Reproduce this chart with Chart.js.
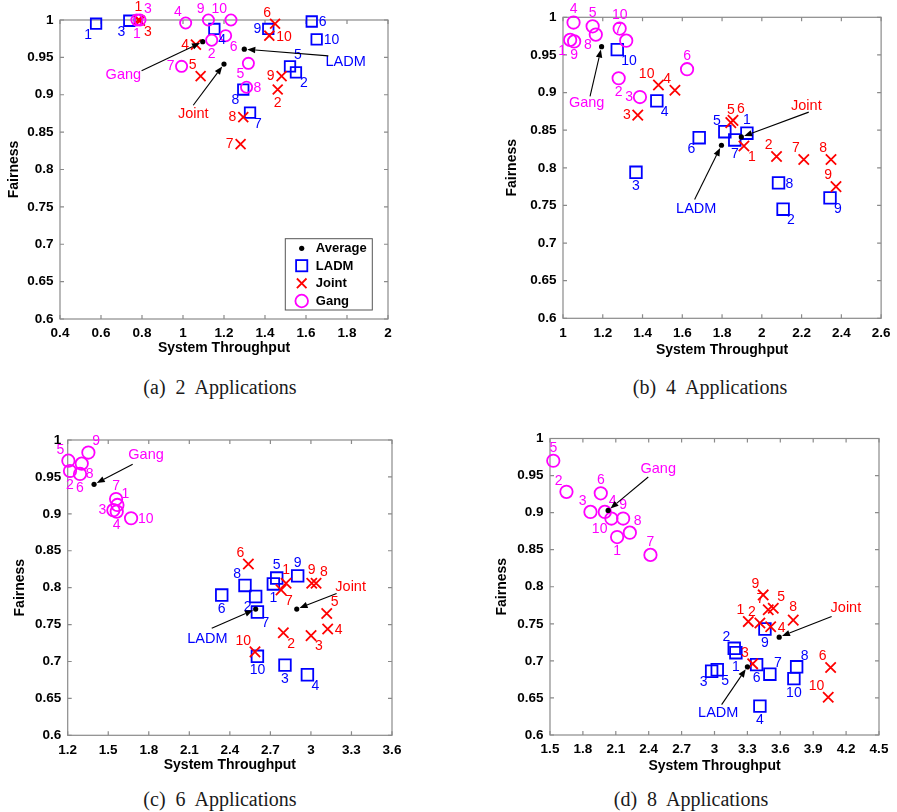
<!DOCTYPE html>
<html><head><meta charset="utf-8">
<script src="https://cdn.jsdelivr.net/npm/chart.js@4.4.1/dist/chart.umd.min.js"></script>
<style>
body{margin:0;background:#fff;width:897px;height:812px;position:relative;overflow:hidden}
canvas{position:absolute}
.cap{position:absolute;font-family:'Liberation Serif','Times New Roman',serif;font-size:20px;line-height:20px;color:#1a1a1a;white-space:pre;word-spacing:5px;transform:translateX(-50%)}
</style></head><body>
<canvas id="pa"></canvas><canvas id="pb"></canvas><canvas id="pc"></canvas><canvas id="pd"></canvas>
<div class="cap" style="left:220px;top:377px">(a) 2 Applications</div>
<div class="cap" style="left:710px;top:377px">(b) 4 Applications</div>
<div class="cap" style="left:220px;top:789px">(c) 6 Applications</div>
<div class="cap" style="left:691px;top:789px">(d) 8 Applications</div>
<script>
// ---------------- DATA ----------------
const appIds = ['1','2','3','4','5','6','7','8','9','10'];
const seriesNames = ['LADM','Joint','Gang'];
const yTicks = [0.6,0.65,0.7,0.75,0.8,0.85,0.9,0.95,1];

// (a) 2 Applications
const aXTicks = [0.4,0.6,0.8,1,1.2,1.4,1.6,1.8,2];
const aLadmTp    = [0.576,1.551,0.738,1.153,1.522,1.628,1.327,1.294,1.416,1.652];
const aLadmFair  = [0.995,0.930,0.999,0.988,0.938,0.998,0.876,0.907,0.988,0.974];
const aJointTp   = [0.782,1.462,0.790,1.063,1.086,1.449,1.281,1.294,1.481,1.421];
const aJointFair = [1.000,0.907,0.999,0.967,0.925,0.995,0.834,0.870,0.925,0.979];
const aGangTp    = [0.775,1.140,0.790,1.013,1.319,1.208,0.993,1.310,1.124,1.234];
const aGangFair  = [1.000,0.973,1.000,0.996,0.942,0.979,0.938,0.910,1.000,1.000];
const aAvgTp     = [1.299,1.200,1.096];   // LADM, Joint, Gang
const aAvgFair   = [0.961,0.941,0.971];

// (b) 4 Applications
const bXTicks = [1,1.2,1.4,1.6,1.8,2,2.2,2.4,2.6];
const bLadmTp    = [1.925,2.107,1.367,1.472,1.814,1.685,1.864,2.084,2.343,1.273];
const bLadmFair  = [0.846,0.745,0.794,0.889,0.848,0.840,0.837,0.780,0.760,0.957];
const bJointTp   = [1.910,2.074,1.376,1.563,1.844,1.855,2.211,2.348,2.373,1.480];
const bJointFair = [0.829,0.815,0.870,0.903,0.860,0.863,0.811,0.811,0.775,0.910];
const bGangTp    = [1.036,1.280,1.387,1.053,1.149,1.624,1.318,1.165,1.056,1.285];
const bGangFair  = [0.970,0.919,0.894,0.993,0.988,0.931,0.969,0.977,0.968,0.985];
const bAvgTp     = [1.797,1.897,1.194];
const bAvgFair   = [0.830,0.841,0.961];

// (c) 6 Applications
const cXTicks = [1.2,1.5,1.8,2.1,2.4,2.7,3,3.3,3.6];
const cLadmTp    = [2.722,2.591,2.808,2.974,2.747,2.340,2.604,2.512,2.902,2.604];
const cLadmFair  = [0.805,0.788,0.695,0.682,0.813,0.790,0.767,0.803,0.816,0.707];
const cJointTp   = [2.816,2.796,3.001,3.124,3.117,2.537,2.779,3.038,3.006,2.586];
const cJointFair = [0.806,0.739,0.735,0.744,0.765,0.832,0.797,0.806,0.806,0.713];
const cGangTp    = [1.568,1.217,1.538,1.563,1.205,1.291,1.558,1.304,1.353,1.669];
const cGangFair  = [0.912,0.958,0.905,0.903,0.972,0.954,0.920,0.968,0.983,0.894];
const cAvgTp     = [2.591,2.895,1.395];
const cAvgFair   = [0.771,0.771,0.940];

// (d) 8 Applications
const dXTicks = [1.5,1.8,2.1,2.4,2.7,3,3.3,3.6,3.9,4.2,4.5];
const dLadmTp    = [3.195,3.180,2.974,3.414,3.025,3.384,3.505,3.749,3.460,3.724];
const dLadmFair  = [0.711,0.717,0.686,0.639,0.688,0.695,0.682,0.692,0.743,0.676];
const dJointTp   = [3.308,3.414,3.348,3.512,3.536,4.059,3.490,3.718,3.444,4.037];
const dJointFair = [0.753,0.751,0.696,0.746,0.771,0.691,0.769,0.755,0.789,0.651];
const dGangTp    = [2.112,1.650,1.869,2.000,1.530,1.963,2.416,2.228,2.167,2.060];
const dGangFair  = [0.867,0.928,0.901,0.901,0.970,0.926,0.843,0.873,0.892,0.892];
const dAvgTp     = [3.300,3.590,2.030];
const dAvgFair   = [0.692,0.732,0.903];

// ---------------- LAYOUT (label placement, annotation positions) ----------------
const aPos = {LADM:['sw','se','sw','se','ne','e','se','sw','w','e'],
              Joint:['n','s','se','w','nw','nw','w','w','w','e'],
              Gang:['s','s','ne','nw','sw','se','w','e','nw','nw']};
const bPos = {LADM:['n','se','s','se','nw','sw','s','e','se','se'],
              Joint:['se','nw','w','nw','n','ne','nw','nw','nw','nw'],
              Gang:['sw','s','w','n','n','n','nw','sw','s','n']};
const cPos = {LADM:['s','sw','s','se','n','s','se','nw','n','s'],
              Joint:['n','se','se','e','ne','nw','se','ne','n','nw'],
              Gang:['ne','s','w','s','nw','s','n','se','ne','e']};
const dPos = {LADM:['s','nw','sw','s','se','s','ne','ne','s','s'],
              Joint:['nw','nw','nw','e','ne','nw','nw','n','nw','nw'],
              Gang:['s','nw','nw','ne','n','n','n','ne','n','sw']};
// [series index, label x, label y, arrow tail x, arrow tail y] in data units
const aNotes = [[2,0.709,0.926,0.798,0.932],[1,1.050,0.874,1.050,0.886],[0,1.793,0.944,1.709,0.952]];
const bNotes = [[2,1.119,0.886,1.136,0.895],[1,2.224,0.882,2.236,0.874],[0,1.670,0.745,1.662,0.758]];
const cNotes = [[2,1.780,0.980,1.681,0.967],[1,3.294,0.801,3.190,0.792],[0,2.234,0.731,2.266,0.745]];
const dNotes = [[2,2.487,0.959,2.396,0.948],[1,4.198,0.772,4.068,0.760],[0,3.034,0.630,3.065,0.641]];

const BLUE = '#0000ff', RED = '#ff0000', MAG = '#ff00ff';
const COLORS = [BLUE, RED, MAG];
const SANS = "'Liberation Sans', Arial, Helvetica, sans-serif";

function pts(xs, ys){ return xs.map((v,i)=>({x:v, y:ys[i]})); }

function labelOffset(place, tw){
  const hw = tw/2;
  switch(place){
    case 'n': return [0,-13];
    case 's': return [0,14];
    case 'e': return [7+hw,1];
    case 'w': return [-7-hw,0];
    case 'ne': return [4+hw,-11];
    case 'nw': return [-4-hw,-11];
    case 'se': return [4+hw,11];
    case 'sw': return [-4-hw,11];
  }
  return [0,0];
}

function drawArrow(ctx,x1,y1,x2,y2){
  const dx=x2-x1, dy=y2-y1, L=Math.hypot(dx,dy), ux=dx/L, uy=dy/L;
  const ex=x2-ux*3, ey=y2-uy*3, hl=8, hw=3.2;
  const bx=ex-ux*hl, by=ey-uy*hl;
  ctx.beginPath(); ctx.moveTo(x1,y1); ctx.lineTo(bx,by); ctx.stroke();
  ctx.beginPath(); ctx.moveTo(ex,ey); ctx.lineTo(bx-uy*hw,by+ux*hw); ctx.lineTo(bx+uy*hw,by-ux*hw); ctx.closePath(); ctx.fill();
}

function buildPanel(s){
  const cv = document.getElementById(s.id);
  cv.width = s.w; cv.height = s.h;
  cv.style.left = s.left+'px'; cv.style.top = s.top+'px';
  cv.style.width = s.w+'px'; cv.style.height = s.h+'px';
  const yW = s.plotL - s.left, xH = s.top + s.h - s.plotB;
  const padTop = s.plotT - s.top, padRight = s.left + s.w - s.plotR;
  const xTitlePad = (s.top + s.h) - (s.plotB + s.gapX) - 8.4;
  const yTitlePad = (s.plotL - s.gapY - s.left) - 8.4;
  const m = s.mk;
  const seriesData = [pts(s.ladmTp,s.ladmFair), pts(s.jointTp,s.jointFair), pts(s.gangTp,s.gangFair)];
  const styles = ['rect','crossRot','circle'];
  const radii = [m.rect, m.cross, m.circle];
  const datasets = [{label:'Average', data:pts(s.avgTp,s.avgFair), pointStyle:'circle', pointRadius:2.6,
      backgroundColor:'#000', borderColor:'#000', borderWidth:0, clip:false, order:0}];
  [2,1,0].forEach((k,j)=>{
    datasets.push({label:seriesNames[k], data:seriesData[k], pointStyle:styles[k], pointRadius:radii[k],
      borderColor:COLORS[k], backgroundColor:'rgba(0,0,0,0)', borderWidth:1.8, clip:false, order:j+1,
      seriesIndex:k});
  });
  const decor = {
    id:'decor'+s.id,
    beforeDatasetsDraw(chart){
      const {ctx, chartArea:ca, scales:{x,y}} = chart;
      ctx.save();
      ctx.strokeStyle='#8a8a8a'; ctx.lineWidth=1.2;
      ctx.strokeRect(ca.left, ca.top, ca.right-ca.left, ca.bottom-ca.top);
      ctx.beginPath();
      s.xTicks.forEach(v=>{ const px=x.getPixelForValue(v);
        ctx.moveTo(px,ca.bottom); ctx.lineTo(px,ca.bottom-4);
        ctx.moveTo(px,ca.top); ctx.lineTo(px,ca.top+4); });
      yTicks.forEach(v=>{ const py=y.getPixelForValue(v);
        ctx.moveTo(ca.left,py); ctx.lineTo(ca.left+4,py);
        ctx.moveTo(ca.right,py); ctx.lineTo(ca.right-4,py); });
      ctx.stroke();
      ctx.restore();
    },
    afterDatasetsDraw(chart){
      const {ctx, chartArea:ca, scales:{x,y}} = chart;
      ctx.save();
      // numeric labels
      ctx.font = '14px '+SANS; ctx.textAlign='center'; ctx.textBaseline='middle';
      chart.data.datasets.forEach((d,di)=>{
        if (d.seriesIndex===undefined) return;
        const meta = chart.getDatasetMeta(di);
        const place = s.pos[seriesNames[d.seriesIndex]];
        ctx.fillStyle = COLORS[d.seriesIndex];
        meta.data.forEach((el,i)=>{
          const t = appIds[i];
          const tw = ctx.measureText(t).width;
          const [ox,oy] = labelOffset(place[i], tw);
          ctx.fillText(t, el.x+ox, el.y+oy);
        });
      });
      // annotations
      ctx.font = '14.5px '+SANS;
      s.notes.forEach(n=>{
        const k=n[0];
        ctx.fillStyle=COLORS[k];
        ctx.fillText(seriesNames[k], x.getPixelForValue(n[1]), y.getPixelForValue(n[2]));
        ctx.strokeStyle='#000'; ctx.fillStyle='#000'; ctx.lineWidth=1.1;
        drawArrow(ctx, x.getPixelForValue(n[3]), y.getPixelForValue(n[4]),
                  x.getPixelForValue(s.avgTp[k]), y.getPixelForValue(s.avgFair[k]));
      });
      // legend (panel a)
      if (s.legend){
        const bx = ca.right-15.7-87, by = ca.bottom-9-71.3;
        ctx.fillStyle='#fff'; ctx.fillRect(bx,by,87,71.3);
        ctx.strokeStyle='#555'; ctx.lineWidth=1; ctx.strokeRect(bx,by,87,71.3);
        const mx = bx+16.4, tx = bx+30.5;
        const rows = [by+9.6, by+27, by+44.6, by+62.3];
        ctx.fillStyle='#000'; ctx.beginPath(); ctx.arc(mx,rows[0],2.6,0,Math.PI*2); ctx.fill();
        ctx.lineWidth=1.8;
        ctx.strokeStyle=BLUE; ctx.strokeRect(mx-5.6,rows[1]-5.6,11.2,11.2);
        ctx.strokeStyle=RED; ctx.beginPath();
        ctx.moveTo(mx-4.8,rows[2]-4.8); ctx.lineTo(mx+4.8,rows[2]+4.8);
        ctx.moveTo(mx+4.8,rows[2]-4.8); ctx.lineTo(mx-4.8,rows[2]+4.8); ctx.stroke();
        ctx.strokeStyle=MAG; ctx.beginPath(); ctx.arc(mx,rows[3],6.3,0,Math.PI*2); ctx.stroke();
        ctx.fillStyle='#000'; ctx.font='bold 13px '+SANS; ctx.textAlign='left';
        ['Average','LADM','Joint','Gang'].forEach((t,i)=>ctx.fillText(t,tx,rows[i]+0.5));
      }
      ctx.restore();
    }
  };
  const tickFont = {family:SANS, size:13.5, weight:'bold'};
  const titleFont = {family:SANS, size:14, weight:'bold'};
  return new Chart(cv, {
    type:'scatter',
    data:{datasets},
    options:{
      responsive:false, animation:false, events:[], devicePixelRatio:1,
      layout:{padding:{top:padTop, right:padRight, left:0, bottom:0}},
      plugins:{legend:{display:false}, tooltip:{enabled:false}},
      scales:{
        x:{type:'linear', min:s.xTicks[0], max:s.xTicks[s.xTicks.length-1],
           grid:{display:false, drawTicks:false}, border:{display:false},
           afterBuildTicks:ax=>{ ax.ticks = s.xTicks.map(v=>({value:v})); },
           afterFit:ax=>{ ax.height = xH; },
           ticks:{autoSkip:false, maxRotation:0, padding:6.5, color:'#000', font:tickFont, callback:v=>String(v)},
           title:{display:true, text:'System Throughput', color:'#000', font:titleFont, padding:{top:0,bottom:xTitlePad}}},
        y:{type:'linear', min:0.6, max:1,
           grid:{display:false, drawTicks:false}, border:{display:false},
           afterBuildTicks:ax=>{ ax.ticks = yTicks.map(v=>({value:v})); },
           afterFit:ax=>{ ax.width = yW; },
           ticks:{autoSkip:false, padding:6.5, color:'#000', font:tickFont, callback:v=>String(v)},
           title:{display:true, text:'Fairness', color:'#000', font:titleFont, padding:{top:yTitlePad,bottom:0}}}
      }
    },
    plugins:[decor]
  });
}

const mkA = {rect:7.4, cross:7.0, circle:5.6};
const mkB = {rect:8.2, cross:7.3, circle:6.2};
buildPanel({id:'pa', left:0, top:0, w:420, h:372, plotL:60, plotR:388, plotT:20, plotB:319, gapX:29, gapY:46,
  xTicks:aXTicks, ladmTp:aLadmTp, ladmFair:aLadmFair, jointTp:aJointTp, jointFair:aJointFair,
  gangTp:aGangTp, gangFair:aGangFair, avgTp:aAvgTp, avgFair:aAvgFair, pos:aPos, notes:aNotes, mk:mkA, legend:true});
buildPanel({id:'pb', left:500, top:0, w:397, h:372, plotL:563, plotR:885, plotT:17.3, plotB:318.3, gapX:32, gapY:51,
  xTicks:bXTicks, ladmTp:bLadmTp, ladmFair:bLadmFair, jointTp:bJointTp, jointFair:bJointFair,
  gangTp:bGangTp, gangFair:bGangFair, avgTp:bAvgTp, avgFair:bAvgFair, pos:bPos, notes:bNotes, mk:mkB});
buildPanel({id:'pc', left:0, top:410, w:430, h:372, plotL:67.7, plotR:392, plotT:440, plotB:735.3, gapX:30, gapY:48,
  xTicks:cXTicks, ladmTp:cLadmTp, ladmFair:cLadmFair, jointTp:cJointTp, jointFair:cJointFair,
  gangTp:cGangTp, gangFair:cGangFair, avgTp:cAvgTp, avgFair:cAvgFair, pos:cPos, notes:cNotes, mk:mkB});
buildPanel({id:'pd', left:490, top:410, w:407, h:372, plotL:550, plotR:879, plotT:438.5, plotB:735, gapX:31, gapY:48,
  xTicks:dXTicks, ladmTp:dLadmTp, ladmFair:dLadmFair, jointTp:dJointTp, jointFair:dJointFair,
  gangTp:dGangTp, gangFair:dGangFair, avgTp:dAvgTp, avgFair:dAvgFair, pos:dPos, notes:dNotes, mk:mkB});
</script>
</body></html>
